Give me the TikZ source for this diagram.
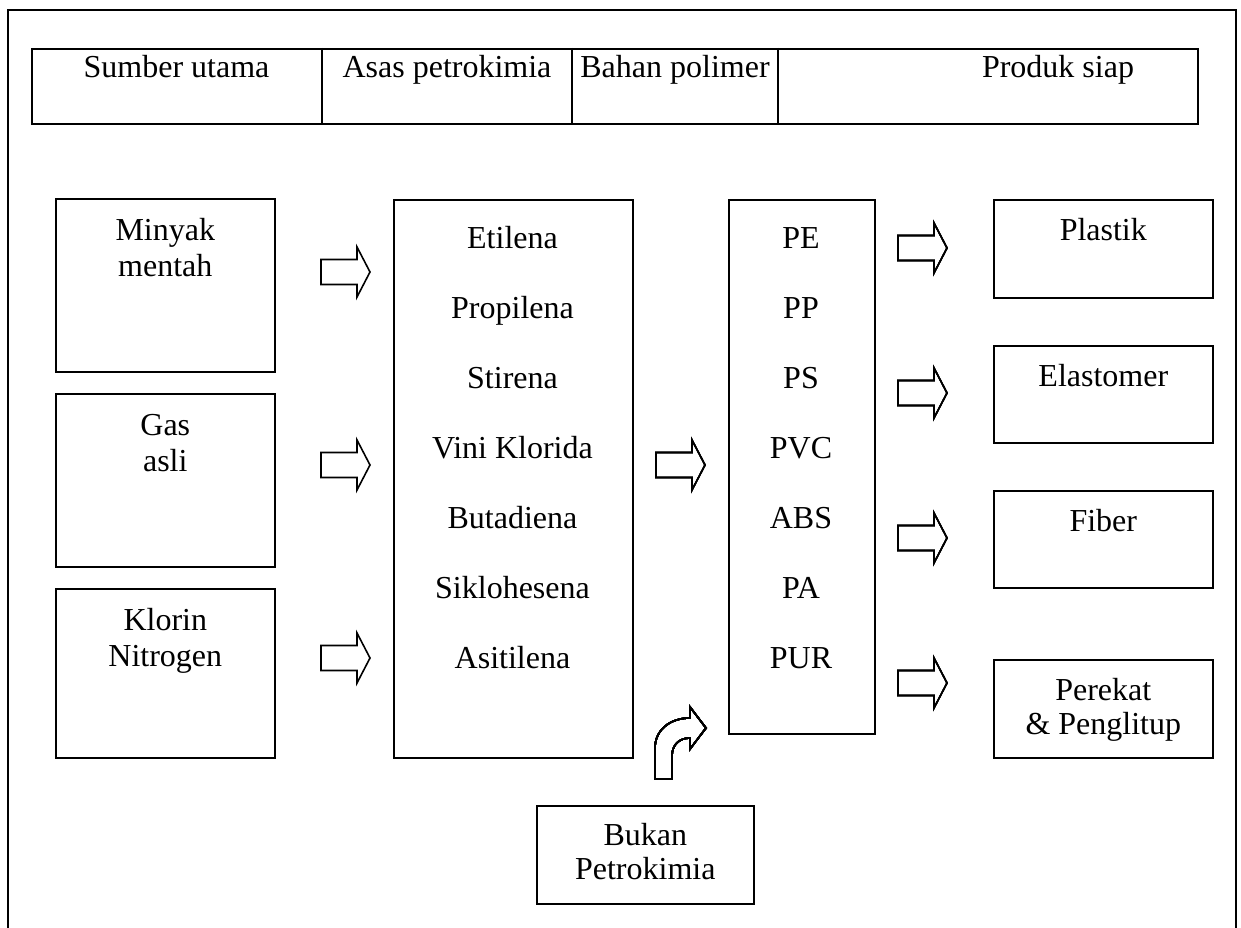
\documentclass[tikz,border=0pt]{standalone}
\usepackage{fontspec}
\setmainfont{Liberation Serif}
\newcommand{\panahblok}[2]{% ekor kiri x, tengah y
  \draw[garis] (#1,#2) ++(0,-12.5) -- ++(36,0) -- ++(0,-12.5) -- ++(13,25)
    -- ++(-13,25) -- ++(0,-12.5) -- ++(-36,0) -- cycle;}

\begin{document}
\begin{tikzpicture}[x=1pt, y=-1pt,
    garis/.style={line width=1.6pt, line join=miter},
    kotak/.style={draw, line width=1.6pt, anchor=north west, inner sep=0pt},
    teks/.style={font=\fontsize{32}{34}\selectfont, align=center, inner sep=0pt, anchor=base},
    teksluas/.style={teks, font=\fontsize{32}{36}\selectfont}]
  \useasboundingbox (0,0) rectangle (1241,928);
  % bingkai luar
  \draw[line width=1.4pt] (8,928) -- (8,10) -- (1236,10) -- (1236,928);
  % jadual tajuk
  \node[kotak, minimum width=1166pt, minimum height=75pt] (tajuk) at (31,48) {};
  \draw[line width=1.4pt] (322,48) -- (322,123) (572,48) -- (572,123) (778,48) -- (778,123);
  \node[teks] (t-1) at (176.5,78) {Sumber utama};
  \node[teks] (t-2) at (447,78) {Asas petrokimia};
  \node[teks] (t-3) at (675,78) {Bahan polimer};
  \node[teks] (t-4) at (1058,78) {Produk siap};
  % sumber utama
  \node[kotak, minimum width=219pt, minimum height=173pt] (minyak) at (55,198) {};
  \node[kotak, minimum width=219pt, minimum height=173pt] (gas) at (55,393) {};
  \node[kotak, minimum width=219pt, minimum height=169pt] (klorin) at (55,588) {};
  \node[teksluas] (minyak-t) at ([yshift=-78pt]minyak.north) {Minyak\\mentah};
  \node[teksluas] (gas-t) at ([yshift=-78pt]gas.north) {Gas\\asli};
  \node[teksluas] (klorin-t) at ([yshift=-78pt]klorin.north) {Klorin\\Nitrogen};
  % asas petrokimia
  \node[kotak, minimum width=239pt, minimum height=558pt] (asas) at (393,199) {};
  \foreach \nama [count=\i] in {Etilena, Propilena, Stirena, Vini Klorida, Butadiena, Siklohesena, Asitilena}
    \node[teks] (asas-\i) at (512.5,178+70*\i) {\nama};
  % bahan polimer
  \node[kotak, minimum width=146pt, minimum height=534pt] (polimer) at (728,199) {};
  \foreach \nama [count=\i] in {PE, PP, PS, PVC, ABS, PA, PUR}
    \node[teks] (polimer-\i) at (801,178+70*\i) {\nama};
  % produk siap
  \node[kotak, minimum width=219pt, minimum height=98pt] (plastik) at (993,199) {};
  \node[kotak, minimum width=219pt, minimum height=97pt] (elastomer) at (993,345) {};
  \node[kotak, minimum width=219pt, minimum height=97pt] (fiber) at (993,490) {};
  \node[kotak, minimum width=219pt, minimum height=98pt] (perekat) at (993,659) {};
  \node[teks] (plastik-t) at ([yshift=-41pt]plastik.north) {Plastik};
  \node[teks] (elastomer-t) at ([yshift=-41pt]elastomer.north) {Elastomer};
  \node[teks] (fiber-t) at ([yshift=-41pt]fiber.north) {Fiber};
  \node[teks] (perekat-t) at ([yshift=-75pt]perekat.north) {Perekat\\\&~Penglitup};
  % bukan petrokimia
  \node[kotak, minimum width=217pt, minimum height=98pt] (bukan) at (536,805) {};
  \node[teks] (bukan-t) at ([yshift=-74pt]bukan.north) {Bukan\\Petrokimia};
  % anak panah
  \foreach \y in {272, 465, 658} \panahblok{321}{\y}
  \panahblok{656}{465}
  \foreach \y in {248, 393, 538, 683} \panahblok{898}{\y}
  \draw[garis] (655,779) -- (655,748) .. controls (655,730) and (670,718) .. (690,718)
    -- (690,707) -- (706,728) -- (690,749) -- (690,738)
    .. controls (679,738) and (672,745) .. (672,756) -- (672,779) -- cycle;
\end{tikzpicture}
\end{document}
